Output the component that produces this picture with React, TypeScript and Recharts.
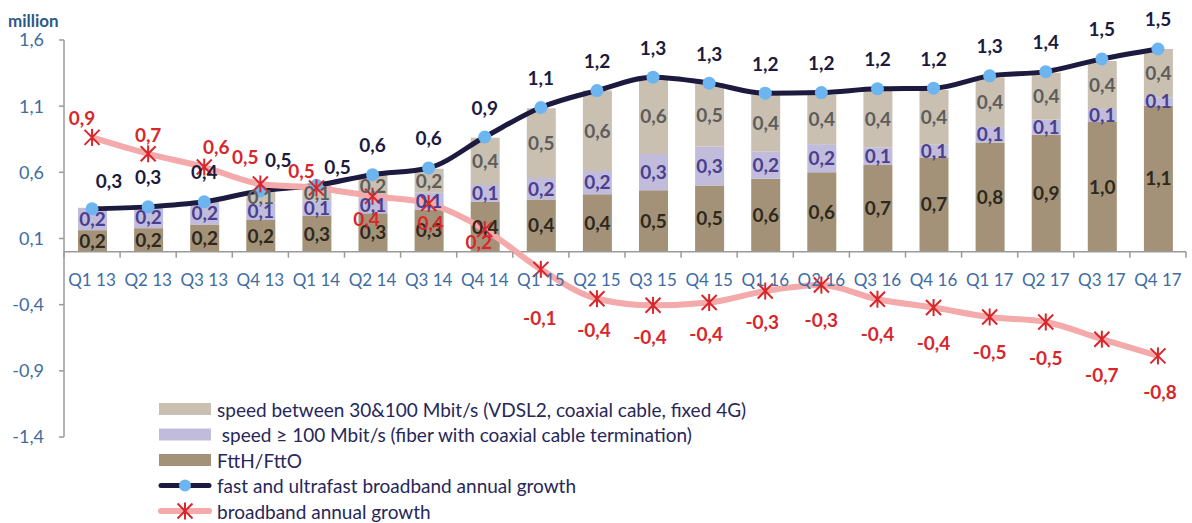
import React from "react";
import {
  ComposedChart,
  Bar,
  Line,
  XAxis,
  YAxis,
  ReferenceLine,
  LabelList,
  Legend,
  Label,
} from "recharts";

const quarters = [
  "Q1 13", "Q2 13", "Q3 13", "Q4 13",
  "Q1 14", "Q2 14", "Q3 14", "Q4 14",
  "Q1 15", "Q2 15", "Q3 15", "Q4 15",
  "Q1 16", "Q2 16", "Q3 16", "Q4 16",
  "Q1 17", "Q2 17", "Q3 17", "Q4 17",
];

// million lines, annual growth
const ftth = [0.163, 0.178, 0.206, 0.24, 0.27, 0.29, 0.319, 0.377, 0.394, 0.434, 0.464, 0.5, 0.552, 0.6, 0.655, 0.713, 0.826, 0.884, 0.98, 1.103];
const ultrafast = [0.169, 0.161, 0.171, 0.13, 0.12, 0.12, 0.126, 0.128, 0.163, 0.176, 0.274, 0.296, 0.206, 0.213, 0.133, 0.096, 0.116, 0.113, 0.098, 0.063];
const fast = [0, 0, 0, 0.09, 0.11, 0.17, 0.182, 0.357, 0.527, 0.608, 0.575, 0.477, 0.432, 0.372, 0.427, 0.414, 0.377, 0.355, 0.364, 0.366];
const fastGrowth = [0.324, 0.339, 0.377, 0.46, 0.502, 0.582, 0.633, 0.867, 1.09, 1.218, 1.319, 1.274, 1.198, 1.203, 1.231, 1.236, 1.329, 1.361, 1.457, 1.532];
const broadbandGrowth = [0.864, 0.74, 0.64, 0.512, 0.482, 0.419, 0.364, 0.168, -0.133, -0.355, -0.405, -0.384, -0.297, -0.252, -0.359, -0.422, -0.493, -0.531, -0.661, -0.787];

const yTicks = [-1.4, -0.9, -0.4, 0.1, 0.6, 1.1, 1.6];

const data = quarters.map((q, i) => ({
  q,
  ftth: ftth[i],
  ultra: ultrafast[i],
  fast: fast[i],
  fastGrowth: fastGrowth[i],
  bbGrowth: broadbandGrowth[i],
}));

const FONT = "Lato, 'Open Sans', sans-serif";
const W = 1192;
const H = 523;
const MARGIN = { top: 40, right: 6, left: 14, bottom: 56 };
const Y_AXIS_W = 50;
const X_AXIS_H = 30;
const PLOT_H = H - MARGIN.top - MARGIN.bottom - X_AXIS_H;
const PLOT_W = W - MARGIN.left - MARGIN.right - Y_AXIS_W;
const Y_MIN = -1.4;
const Y_MAX = 1.6;
const ZERO_Y = MARGIN.top + (PLOT_H * Y_MAX) / (Y_MAX - Y_MIN);
const BAND = PLOT_W / quarters.length;

const AXIS = "#9a9a9a";
const BLUE = "#3e6ca3";
const NAVY = "#1c1a3e";
const DOT = "#6db5f0";
const PINK = "#f4a9ab";
const RED = "#d8262a";
const BEIGE = "#c9c0b1";
const LAVENDER = "#c1bcdc";
const BROWN = "#a39277";

const fmt = (v: number) => v.toFixed(1).replace(".", ",");

// label placement tweaks, like the hand-moved labels in the original
const navyNudge: Record<number, [number, number]> = {
  0: [17, -28],
  3: [18, -31],
  4: [21, -19],
};
const redNudge: [number, number][] = [
  [-10, -20], [0, -19], [12, -21], [-15, -27], [-15, -17], [-6, 22], [2, 19], [-6, 12],
  [-1, 48], [-3, 31], [-3, 31], [-3, 31], [-3, 30], [0, 34], [0, 34], [0, 35],
  [0, 35], [0, 35], [0, 35], [2, 36],
];

function QuarterTick(props: any) {
  const { x, index, payload } = props;
  const last = index === quarters.length - 1;
  return (
    <g>
      <line x1={x - BAND / 2} x2={x - BAND / 2} y1={ZERO_Y} y2={ZERO_Y + 6} stroke={AXIS} strokeWidth={1.5} />
      {last && (
        <line x1={x + BAND / 2} x2={x + BAND / 2} y1={ZERO_Y} y2={ZERO_Y + 6} stroke={AXIS} strokeWidth={1.5} />
      )}
      <text x={x} y={ZERO_Y + 34} textAnchor="middle" fill={BLUE} fontSize={17} fontFamily={FONT}>
        {payload.value}
      </text>
    </g>
  );
}

function StarX(props: any) {
  const { cx, cy, index } = props;
  if (cx == null || cy == null) return <g key={index} />;
  const s = 7.5;
  return (
    <g key={index} stroke={RED} strokeWidth={2}>
      <line x1={cx - s} y1={cy - s} x2={cx + s} y2={cy + s} />
      <line x1={cx - s} y1={cy + s} x2={cx + s} y2={cy - s} />
      <line x1={cx} y1={cy - s - 1} x2={cx} y2={cy + s + 1} />
    </g>
  );
}

const navyLabel = (props: any) => {
  const { x, y, value, index } = props;
  const [dx, dy] = navyNudge[index] ?? [0, -30];
  return (
    <text x={x + dx} y={y + dy} textAnchor="middle" dominantBaseline="central" fill={NAVY}
      fontSize={19} fontWeight={700} fontFamily={FONT}>
      {fmt(value)}
    </text>
  );
};

const redLabel = (props: any) => {
  const { x, y, value, index } = props;
  const [dx, dy] = redNudge[index] ?? [0, 30];
  return (
    <text x={x + dx} y={y + dy} textAnchor="middle" dominantBaseline="central" fill={RED}
      fontSize={19} fontWeight={700} fontFamily={FONT}>
      {fmt(value)}
    </text>
  );
};

const barLabelStyle = (fill: string) => ({
  fill,
  fontSize: 19,
  fontWeight: 700,
  fontFamily: FONT,
});

const legendOrder = ["fast", "ultra", "ftth", "fastGrowth", "bbGrowth"];

function renderLegend(props: any) {
  const payload: any[] = props.payload ?? [];
  const items = legendOrder
    .map((k) => payload.find((p) => p.dataKey === k))
    .filter(Boolean);
  return (
    <svg width={700} height={130} style={{ display: "block", overflow: "visible" }}>
      {items.map((it: any, i: number) => {
        const cy = 13 + i * 25.5;
        let swatch;
        if (it.dataKey === "fastGrowth") {
          swatch = (
            <g>
              <line x1={2} x2={50} y1={cy} y2={cy} stroke={NAVY} strokeWidth={5} strokeLinecap="round" />
              <circle cx={26} cy={cy} r={6} fill={DOT} />
            </g>
          );
        } else if (it.dataKey === "bbGrowth") {
          swatch = (
            <g>
              <line x1={2} x2={50} y1={cy} y2={cy} stroke={PINK} strokeWidth={6} strokeLinecap="round" />
              <StarX cx={26} cy={cy} index={i} />
            </g>
          );
        } else {
          swatch = <rect x={0} y={cy - 6} width={52} height={12} fill={it.color} />;
        }
        return (
          <g key={it.dataKey}>
            {swatch}
            <text x={58} y={cy} dominantBaseline="central" fill="#27275a" fontSize={19}
              fontFamily={FONT} style={{ whiteSpace: "pre" }}>
              {it.value}
            </text>
          </g>
        );
      })}
    </svg>
  );
}

export default function App() {
  return (
    <div style={{ position: "absolute", left: 0, top: 0, width: W, height: H, background: "#fff" }}>
      <ComposedChart width={W} height={H} data={data} margin={MARGIN} style={{ fontFamily: FONT }}>
        <XAxis
          dataKey="q"
          height={X_AXIS_H}
          axisLine={false}
          tickLine={false}
          interval={0}
          tick={(p: any) => <QuarterTick {...p} />}
        />
        <YAxis
          width={Y_AXIS_W}
          domain={[Y_MIN, Y_MAX]}
          ticks={yTicks}
          tickFormatter={fmt}
          axisLine={{ stroke: AXIS, strokeWidth: 1.5 }}
          tickLine={{ stroke: AXIS, strokeWidth: 1.5 }}
          tickSize={5}
          tickMargin={15}
          tick={{ fill: BLUE, fontSize: 18, fontFamily: FONT }}
          allowDataOverflow
        >
          <Label
            content={(p: any) => (
              <text x={p.viewBox.x - 6} y={p.viewBox.y - 13} fill="#2f5888" fontSize={17}
                fontWeight={700} fontFamily={FONT}>
                million
              </text>
            )}
          />
        </YAxis>
        <ReferenceLine y={0} stroke={AXIS} strokeWidth={1.5} />

        <Bar dataKey="ftth" name="FttH/FttO" stackId="a" fill={BROWN} barSize={29} isAnimationActive={false}>
          <LabelList dataKey="ftth" position="center" formatter={(v: any) => (v ? fmt(v) : "")}
            style={barLabelStyle("#2e291f")} />
        </Bar>
        <Bar dataKey="ultra" name=" speed ≥ 100 Mbit/s (fiber with coaxial cable termination)" stackId="a"
          fill={LAVENDER} barSize={29} isAnimationActive={false}>
          <LabelList dataKey="ultra" position="center" formatter={(v: any) => (v ? fmt(v) : "")}
            style={barLabelStyle("#4a3f8e")} />
        </Bar>
        <Bar dataKey="fast" name="speed between 30&100 Mbit/s (VDSL2, coaxial cable, fixed 4G)" stackId="a"
          fill={BEIGE} barSize={29} isAnimationActive={false}>
          <LabelList dataKey="fast" position="center" formatter={(v: any) => (v ? fmt(v) : "")}
            style={barLabelStyle("#5d5d5d")} />
        </Bar>

        <Line
          dataKey="fastGrowth"
          name="fast and ultrafast broadband annual growth"
          type="monotone"
          stroke={NAVY}
          strokeWidth={5}
          dot={{ r: 6.5, fill: DOT, stroke: DOT, strokeWidth: 0 }}
          isAnimationActive={false}
        >
          <LabelList dataKey="fastGrowth" content={navyLabel} />
        </Line>
        <Line
          dataKey="bbGrowth"
          name="broadband annual growth"
          type="monotone"
          stroke={PINK}
          strokeWidth={6}
          dot={(p: any) => <StarX key={p.index} {...p} />}
          isAnimationActive={false}
        >
          <LabelList dataKey="bbGrowth" content={redLabel} />
        </Line>

        <Legend
          layout="horizontal"
          verticalAlign="middle"
          align="center"
          wrapperStyle={{ left: 159, top: 396, width: 700, height: 130 }}
          content={renderLegend}
        />
      </ComposedChart>
    </div>
  );
}
